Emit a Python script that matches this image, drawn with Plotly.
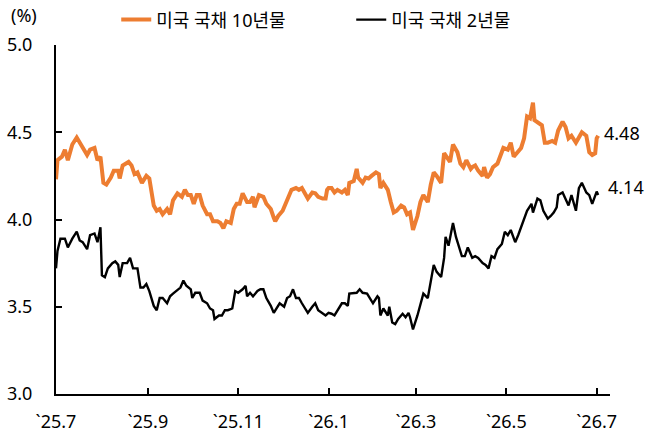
import plotly.graph_objects as go

# ---- data ----
dates10 = [
    "2025-07-01", "2025-07-02", "2025-07-05", "2025-07-07", "2025-07-09", "2025-07-12", "2025-07-15",
    "2025-07-17", "2025-07-19", "2025-07-22", "2025-07-24", "2025-07-27", "2025-07-29", "2025-07-31",
    "2025-08-02", "2025-08-04", "2025-08-07", "2025-08-09", "2025-08-12", "2025-08-13", "2025-08-15",
    "2025-08-19", "2025-08-21", "2025-08-23", "2025-08-25", "2025-08-28", "2025-08-31", "2025-09-02",
    "2025-09-05", "2025-09-07", "2025-09-09", "2025-09-11", "2025-09-14", "2025-09-16", "2025-09-18",
    "2025-09-21", "2025-09-24", "2025-09-26", "2025-09-28", "2025-09-30", "2025-10-02", "2025-10-04",
    "2025-10-06", "2025-10-08", "2025-10-11", "2025-10-13", "2025-10-15", "2025-10-18", "2025-10-20",
    "2025-10-22", "2025-10-24", "2025-10-27", "2025-10-29", "2025-10-31", "2025-11-02", "2025-11-04",
    "2025-11-07", "2025-11-09", "2025-11-11", "2025-11-12", "2025-11-15", "2025-11-18", "2025-11-20",
    "2025-11-23", "2025-11-25", "2025-11-26", "2025-11-28", "2025-12-01", "2025-12-03", "2025-12-05",
    "2025-12-07", "2025-12-10", "2025-12-12", "2025-12-14", "2025-12-16", "2025-12-18", "2025-12-21",
    "2025-12-23", "2025-12-25", "2025-12-28", "2025-12-30", "2025-12-31", "2026-01-01", "2026-01-03",
    "2026-01-05", "2026-01-07", "2026-01-10", "2026-01-12", "2026-01-14", "2026-01-15", "2026-01-18",
    "2026-01-20", "2026-01-21", "2026-01-24", "2026-01-26", "2026-01-28", "2026-01-30", "2026-02-02",
    "2026-02-04", "2026-02-05", "2026-02-07", "2026-02-10", "2026-02-12", "2026-02-14", "2026-02-16",
    "2026-02-19", "2026-02-21", "2026-02-23", "2026-02-25", "2026-02-27", "2026-03-02", "2026-03-04",
    "2026-03-06", "2026-03-09", "2026-03-11", "2026-03-13", "2026-03-15", "2026-03-18", "2026-03-20",
    "2026-03-22", "2026-03-24", "2026-03-26", "2026-03-29", "2026-03-31", "2026-04-02", "2026-04-04",
    "2026-04-07", "2026-04-08", "2026-04-10", "2026-04-12", "2026-04-15", "2026-04-16", "2026-04-18",
    "2026-04-20", "2026-04-22", "2026-04-25", "2026-04-27", "2026-04-29", "2026-05-02", "2026-05-04",
    "2026-05-06", "2026-05-08", "2026-05-11", "2026-05-13", "2026-05-15", "2026-05-17", "2026-05-19",
    "2026-05-20", "2026-05-22", "2026-05-25", "2026-05-27", "2026-05-29", "2026-06-01", "2026-06-03",
    "2026-06-05", "2026-06-08", "2026-06-10", "2026-06-12", "2026-06-14", "2026-06-17", "2026-06-19",
    "2026-06-21", "2026-06-24", "2026-06-26", "2026-06-28", "2026-06-30", "2026-07-01", "2026-07-02",
]
ust10 = [
    4.23, 4.34, 4.36, 4.40, 4.34, 4.43, 4.47,
    4.44, 4.41, 4.37, 4.40, 4.41, 4.34, 4.36,
    4.21, 4.20, 4.24, 4.28, 4.28, 4.235, 4.31,
    4.33, 4.31, 4.26, 4.27, 4.21, 4.25, 4.235,
    4.08, 4.05, 4.06, 4.03, 4.06, 4.03, 4.11,
    4.15, 4.13, 4.17, 4.14, 4.14, 4.09, 4.14,
    4.14, 4.08, 4.03, 4.03, 3.99, 3.99, 3.98,
    3.95, 3.99, 3.98, 4.06, 4.09, 4.09, 4.15,
    4.10, 4.10, 4.13, 4.07, 4.14, 4.13, 4.09,
    4.06, 4.01, 3.99, 4.02, 4.05, 4.09, 4.13,
    4.17, 4.18, 4.17, 4.18, 4.155, 4.12, 4.155,
    4.15, 4.13, 4.12, 4.12, 4.17, 4.18, 4.18,
    4.155, 4.17, 4.155, 4.17, 4.14, 4.21, 4.22,
    4.29, 4.24, 4.21, 4.24, 4.235, 4.25, 4.27,
    4.26, 4.18, 4.21, 4.17, 4.10, 4.04, 4.05,
    4.08, 4.07, 4.03, 4.04, 3.94, 4.02, 4.10,
    4.14, 4.10, 4.20, 4.27, 4.25, 4.21, 4.38,
    4.35, 4.33, 4.43, 4.385, 4.32, 4.30, 4.34,
    4.29, 4.30, 4.31, 4.28, 4.25, 4.30, 4.24,
    4.26, 4.30, 4.32, 4.36, 4.41, 4.40, 4.44,
    4.36, 4.38, 4.41, 4.465, 4.59, 4.58, 4.67,
    4.57, 4.56, 4.54, 4.44, 4.44, 4.45, 4.44,
    4.51, 4.56, 4.53, 4.465, 4.48, 4.44, 4.47,
    4.50, 4.48, 4.385, 4.37, 4.38, 4.465, 4.48,
]

dates2 = [
    "2025-07-01", "2025-07-02", "2025-07-04", "2025-07-07", "2025-07-09", "2025-07-12", "2025-07-15",
    "2025-07-17", "2025-07-19", "2025-07-22", "2025-07-24", "2025-07-27", "2025-07-29", "2025-07-31",
    "2025-08-01", "2025-08-03", "2025-08-05", "2025-08-08", "2025-08-10", "2025-08-12", "2025-08-13",
    "2025-08-15", "2025-08-18", "2025-08-20", "2025-08-22", "2025-08-25", "2025-08-27", "2025-08-29",
    "2025-08-31", "2025-09-02", "2025-09-05", "2025-09-07", "2025-09-09", "2025-09-11", "2025-09-14",
    "2025-09-16", "2025-09-18", "2025-09-20", "2025-09-23", "2025-09-25", "2025-09-27", "2025-09-30",
    "2025-10-01", "2025-10-03", "2025-10-06", "2025-10-08", "2025-10-11", "2025-10-13", "2025-10-15",
    "2025-10-16", "2025-10-19", "2025-10-21", "2025-10-23", "2025-10-25", "2025-10-28", "2025-10-30",
    "2025-11-01", "2025-11-04", "2025-11-06", "2025-11-07", "2025-11-09", "2025-11-11", "2025-11-14",
    "2025-11-16", "2025-11-18", "2025-11-20", "2025-11-23", "2025-11-25", "2025-11-27", "2025-11-29",
    "2025-12-02", "2025-12-04", "2025-12-06", "2025-12-08", "2025-12-10", "2025-12-12", "2025-12-14",
    "2025-12-16", "2025-12-18", "2025-12-21", "2025-12-23", "2025-12-25", "2025-12-28", "2025-12-30",
    "2026-01-01", "2026-01-03", "2026-01-05", "2026-01-07", "2026-01-10", "2026-01-12", "2026-01-14",
    "2026-01-15", "2026-01-18", "2026-01-20", "2026-01-22", "2026-01-24", "2026-01-27", "2026-01-29",
    "2026-01-31", "2026-02-03", "2026-02-04", "2026-02-05", "2026-02-07", "2026-02-10", "2026-02-11",
    "2026-02-13", "2026-02-15", "2026-02-17", "2026-02-20", "2026-02-22", "2026-02-24", "2026-02-25",
    "2026-02-27", "2026-03-02", "2026-03-04", "2026-03-06", "2026-03-09", "2026-03-11", "2026-03-13",
    "2026-03-15", "2026-03-18", "2026-03-20", "2026-03-21", "2026-03-23", "2026-03-24", "2026-03-26",
    "2026-03-28", "2026-03-30", "2026-04-01", "2026-04-03", "2026-04-05", "2026-04-08", "2026-04-10",
    "2026-04-12", "2026-04-15", "2026-04-17", "2026-04-19", "2026-04-21", "2026-04-23", "2026-04-25",
    "2026-04-28", "2026-04-30", "2026-05-02", "2026-05-04", "2026-05-07", "2026-05-09", "2026-05-11",
    "2026-05-13", "2026-05-15", "2026-05-18", "2026-05-19", "2026-05-22", "2026-05-24", "2026-05-26",
    "2026-05-29", "2026-05-31", "2026-06-02", "2026-06-04", "2026-06-05", "2026-06-08", "2026-06-10",
    "2026-06-12", "2026-06-14", "2026-06-17", "2026-06-19", "2026-06-21", "2026-06-24", "2026-06-26",
    "2026-06-28", "2026-06-30", "2026-07-01", "2026-07-02",
]
ust2 = [
    3.72, 3.82, 3.89, 3.89, 3.84, 3.89, 3.93,
    3.88, 3.87, 3.83, 3.91, 3.92, 3.87, 3.955,
    3.68, 3.67, 3.72, 3.75, 3.76, 3.74, 3.67,
    3.75, 3.75, 3.78, 3.72, 3.72, 3.61, 3.61,
    3.63, 3.59, 3.505, 3.48, 3.55, 3.55, 3.52,
    3.56, 3.575, 3.59, 3.61, 3.65, 3.62, 3.60,
    3.55, 3.58, 3.58, 3.535, 3.52, 3.49, 3.48,
    3.43, 3.45, 3.45, 3.48, 3.48, 3.49, 3.59,
    3.58, 3.60, 3.62, 3.56, 3.58, 3.56, 3.59,
    3.60, 3.60, 3.55, 3.505, 3.465, 3.49, 3.52,
    3.50, 3.55, 3.56, 3.60, 3.55, 3.55, 3.52,
    3.49, 3.465, 3.50, 3.52, 3.48, 3.46, 3.45,
    3.465, 3.46, 3.45, 3.48, 3.52, 3.52, 3.505,
    3.575, 3.58, 3.58, 3.60, 3.58, 3.575, 3.55,
    3.52, 3.56, 3.55, 3.45, 3.49, 3.45, 3.50,
    3.41, 3.40, 3.43, 3.46, 3.44, 3.465, 3.44,
    3.37, 3.45, 3.52, 3.575, 3.55, 3.64, 3.74,
    3.70, 3.67, 3.78, 3.90, 3.85, 3.89, 3.98,
    3.90, 3.84, 3.79, 3.79, 3.84, 3.78, 3.79,
    3.78, 3.75, 3.74, 3.72, 3.79, 3.78, 3.83,
    3.86, 3.93, 3.91, 3.94, 3.87, 3.91, 3.955,
    4.005, 4.05, 4.09, 4.04, 4.12, 4.11, 4.05,
    4.005, 4.02, 4.04, 4.07, 4.14, 4.155, 4.12,
    4.08, 4.14, 4.05, 4.18, 4.21, 4.155, 4.14,
    4.09, 4.14, 4.16, 4.14,
]

series_names = ["미국 국채 10년물", "미국 국채 2년물"]
series_colors = ["#ED7D31", "#000000"]

tick_dates = ["2025-07-01", "2025-09-01", "2025-11-01", "2026-01-01", "2026-03-01", "2026-05-01", "2026-07-01"]
tick_labels = ["`25.7", "`25.9", "`25.11", "`26.1", "`26.3", "`26.5", "`26.7"]
y_ticks = [3.0, 3.5, 4.0, 4.5, 5.0]

FONT = "Noto Sans, Noto Sans CJK KR, sans-serif"
FS = 18

fig = go.Figure()
fig.add_trace(go.Scatter(x=dates10, y=ust10, mode="lines", name=series_names[0],
                         line=dict(color=series_colors[0], width=4)))
fig.add_trace(go.Scatter(x=dates2, y=ust2, mode="lines", name=series_names[1],
                         line=dict(color=series_colors[1], width=2.4)))

# end-value labels
fig.add_annotation(x=dates10[-1], y=ust10[-1], text=f"{ust10[-1]:.2f}", showarrow=False,
                   xanchor="left", yanchor="middle", xshift=4, yshift=3,
                   font=dict(size=FS, color="#000000", family=FONT))
fig.add_annotation(x=dates2[-1], y=ust2[-1], text=f"{ust2[-1]:.2f}", showarrow=False,
                   xanchor="left", yanchor="middle", xshift=8, yshift=8,
                   font=dict(size=FS, color="#000000", family=FONT))

# unit label
fig.add_annotation(xref="paper", yref="paper", x=-0.058, y=1.086, text="(%)", showarrow=False,
                   xanchor="center", yanchor="middle", font=dict(size=FS, color="#000000", family=FONT))

fig.update_layout(
    width=653, height=433,
    margin=dict(l=56, r=43, t=45, b=39, autoexpand=False),
    paper_bgcolor="white", plot_bgcolor="white",
    font=dict(family=FONT, size=FS, color="#000000"),
    showlegend=True,
    legend=dict(orientation="h", xref="container", yref="container",
                x=0.178, y=0.954, xanchor="left", yanchor="middle",
                entrywidth=190, entrywidthmode="pixels",
                font=dict(size=FS, family=FONT, color="#000000"),
                bgcolor="rgba(0,0,0,0)"),
)
fig.update_xaxes(
    type="date", range=["2025-07-01", "2026-07-10"],
    tickmode="array", tickvals=tick_dates, ticktext=tick_labels,
    showgrid=False, zeroline=False,
    showline=True, linecolor="#000000", linewidth=2,
    ticks="inside", ticklen=6, tickwidth=2, tickcolor="#000000",
    ticklabelstandoff=10,
    tickfont=dict(size=FS, family=FONT, color="#000000"),
)
fig.update_yaxes(
    range=[3.0, 5.0], tickmode="array", tickvals=y_ticks,
    ticktext=[f"{v:.1f}" for v in y_ticks],
    showgrid=False, zeroline=False,
    showline=True, linecolor="#000000", linewidth=2,
    ticks="inside", ticklen=6, tickwidth=2, tickcolor="#000000",
    ticklabelstandoff=18,
    tickfont=dict(size=FS, family=FONT, color="#000000"),
)

fig.write_html("out.html")
